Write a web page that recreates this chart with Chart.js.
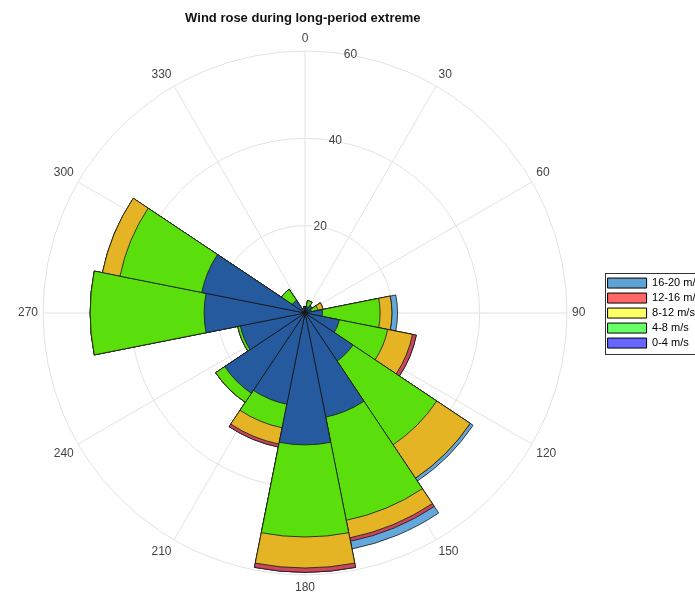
<!DOCTYPE html>
<html>
<head>
<meta charset="utf-8">
<script src="https://cdn.jsdelivr.net/npm/chart.js@4.4.1/dist/chart.umd.min.js"></script>
<style>
html, body { margin: 0; padding: 0; overflow: hidden; background: #fff; }
#wrap { width: 711px; height: 596px; }
</style>
</head>
<body>
<div id="wrap"><canvas id="rose"></canvas></div>
<script>
// sector centres (deg, clockwise from north)
var directions = [0, 22.5, 45, 67.5, 90, 112.5, 135, 157.5, 180, 202.5, 225, 247.5, 270, 292.5, 315, 337.5];

// frequency per speed class and direction
var speed0to4   = [1.5, 1.5, 2.0, 1.5, 4.0, 8.0, 13.2, 24.3, 30.2, 21.3, 22.1, 15.1, 23.1, 24.1, 3.5, 0];
var speed4to8   = [0, 1.4, 0, 1.5, 13.2, 11.3, 23.1, 24.1, 21.1, 5.5, 2.5, 0.6, 26.1, 19.1, 3.0, 0];
var speed8to12  = [0, 0, 0, 1.2, 2.7, 5.8, 9.2, 4.1, 7.1, 3.8, 0, 0, 0, 4.1, 0, 0];
var speed12to16 = [0, 0, 0, 0, 0, 0.9, 0, 0.8, 1.0, 0.7, 0, 0, 0, 0, 0, 0];
var speed16to20 = [0, 0, 0, 0, 1.3, 0, 0.8, 1.8, 0, 0, 0, 0, 0, 0, 0, 0];

var speedLabels = ['0-4 m/s', '4-8 m/s', '8-12 m/s', '12-16 m/s', '16-20 m/s'];
var angleLabels = ['0', '30', '60', '90', '120', '150', '180', '210', '240', '270', '300', '330'];

var barColors = ['#265a9e', '#5ade0c', '#e4b424', '#c8475c', '#62a8dc'];
var legendColors = ['#6666ff', '#66ff66', '#ffff66', '#ff6666', '#5fa2d4'];

var tickAngle = 10; // where the radius labels sit

function init(){
    Chart.defaults.font.family = "'Liberation Sans', Arial, sans-serif";

    var bins = [speed0to4, speed4to8, speed8to12, speed12to16, speed16to20];
    var width = 360 / directions.length;

    // north sector is split in two halves so that it is centred on 0
    function sliceAngle(ctx){
        var i = ctx.dataIndex;
        return (i === 0 || i === directions.length) ? width / 2 : width;
    }

    // stacked by drawing cumulative wedges, biggest at the back
    var running = directions.map(function(){ return 0; });
    var datasets = bins.map(function(bin, b){
        running = running.map(function(v, i){ return v + bin[i]; });
        var cum = running.slice();
        return {
            label: speedLabels[b],
            data: cum.concat([cum[0]]),
            backgroundColor: barColors[b],
            borderColor: '#151515',
            borderWidth: 0.8,
            angle: sliceAngle
        };
    });

    var legendFrame = {
        id: 'legendFrame',
        afterDraw: function(chart){
            var lg = chart.legend;
            var hb = lg.legendHitBoxes;
            if (!hb || !hb.length) return;
            var ctx = chart.ctx;
            var last = hb[hb.length - 1];
            ctx.save();
            ctx.strokeStyle = '#333';
            ctx.lineWidth = 1;
            ctx.strokeRect(Math.round(lg.left) + 1.5, Math.round(hb[0].top) - 4.5, 200, last.top + last.height - hb[0].top + 10);
            ctx.restore();
        }
    };

    var radiusLabels = {
        id: 'radiusLabels',
        afterDraw: function(chart){
            var r = chart.scales.r;
            var ctx = chart.ctx;
            var a = tickAngle * Math.PI / 180;
            ctx.save();
            ctx.font = "12px 'Liberation Sans', Arial, sans-serif";
            ctx.fillStyle = '#444';
            ctx.textAlign = 'center';
            ctx.textBaseline = 'middle';
            r.ticks.forEach(function(t){
                if (t.value === 0) return;
                var d = r.getDistanceFromCenterForValue(t.value);
                ctx.fillText(t.label, r.xCenter + d * Math.sin(a), r.yCenter - d * Math.cos(a));
            });
            ctx.restore();
        }
    };

    var ctx = document.getElementById('rose').getContext('2d');
    var chart = new Chart(ctx, {
        type: 'polarArea',
        data: {
            labels: angleLabels,
            datasets: datasets
        },
        options: {
            responsive: true,
            maintainAspectRatio: false,
            animation: false,
            layout: {
                padding: { left: 2, bottom: 1.5 }
            },
            scales: {
                r: {
                    min: 0,
                    max: 60,
                    startAngle: 0,
                    ticks: { stepSize: 20, display: false },
                    grid: { color: '#e2e2e2', lineWidth: 1 },
                    angleLines: { display: true, color: '#e2e2e2', lineWidth: 1 },
                    pointLabels: {
                        display: true,
                        padding: 5,
                        color: '#444',
                        font: { size: 12 }
                    }
                }
            },
            plugins: {
                title: {
                    display: true,
                    fullSize: false,
                    text: 'Wind rose during long-period extreme',
                    color: '#111',
                    font: { size: 13, weight: 'bold' },
                    padding: { top: 11, bottom: 5 }
                },
                legend: {
                    position: 'right',
                    fullSize: false,
                    labels: {
                        boxWidth: 39,
                        boxHeight: 10,
                        padding: 4,
                        color: '#222',
                        font: { size: 11 },
                        generateLabels: function(chart){
                            return speedLabels.map(function(txt, i){
                                return {
                                    text: txt,
                                    fillStyle: legendColors[i],
                                    strokeStyle: '#000',
                                    lineWidth: 1,
                                    datasetIndex: i
                                };
                            }).reverse();
                        }
                    }
                },
                tooltip: { enabled: false }
            }
        },
        plugins: [legendFrame, radiusLabels]
    });
}

window.onload = init;
</script>
</body>
</html>
